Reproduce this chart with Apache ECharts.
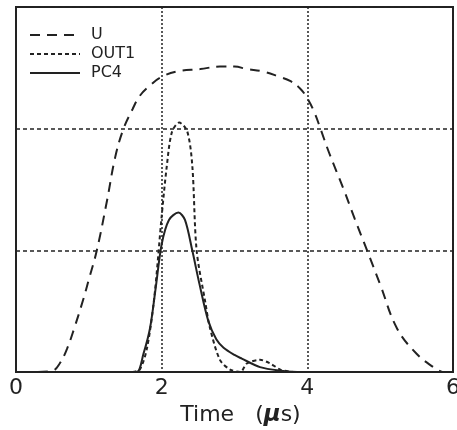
<!DOCTYPE html>
<html>
<head>
<meta charset="utf-8">
<script src="https://cdn.jsdelivr.net/npm/echarts@6/dist/echarts.min.js"></script>
<style>
  html, body { margin: 0; padding: 0; background: #fff; }
  #chart { width: 457px; height: 430px; }
</style>
</head>
<body>
<div id="chart"></div>
<script>
// [time in us, signal]
var uData = [[0.3,0],[0.5,0.01],[0.6,0.07],[0.7,0.19],[0.8,0.36],[0.92,0.59],[1.0,0.76],[1.11,1.0],
  [1.25,1.41],[1.36,1.76],[1.47,1.99],[1.6,2.16],[1.7,2.27],[1.85,2.36],[1.98,2.42],[2.21,2.47],
  [2.53,2.49],[2.8,2.51],[3.0,2.51],[3.17,2.49],[3.39,2.47],[3.6,2.43],[3.77,2.39],[3.9,2.33],
  [4.0,2.25],[4.1,2.13],[4.18,2.0],[4.3,1.8],[4.5,1.5],[4.65,1.26],[4.82,1.0],[5.0,0.72],
  [5.23,0.36],[5.5,0.15],[5.73,0.04],[5.85,0]];
var out1Data = [[1.6,0],[1.7,0.02],[1.8,0.2],[1.9,0.62],[2.0,1.28],[2.07,1.69],[2.14,1.97],
  [2.24,2.05],[2.35,1.98],[2.42,1.7],[2.48,1.0],[2.6,0.57],[2.66,0.37],[2.8,0.1],[2.94,0.02],
  [3.08,0],[3.17,0.07],[3.35,0.1],[3.49,0.07],[3.63,0.02],[3.8,0]];
var pc4Data = [[1.5,0],[1.66,0],[1.75,0.15],[1.84,0.36],[1.92,0.7],[2.0,1.05],[2.1,1.25],
  [2.23,1.31],[2.32,1.25],[2.42,1.0],[2.52,0.72],[2.64,0.42],[2.75,0.27],[2.85,0.2],
  [3.0,0.14],[3.1,0.11],[3.35,0.04],[3.63,0.01],[3.86,0]];
var xTicks = [0, 2, 4, 6];
var seriesNames = ['U', 'OUT1', 'PC4'];

var chart = echarts.init(document.getElementById('chart'));
var ink = '#222';

var option = {
  animation: false,
  textStyle: { fontFamily: 'DejaVu Sans' },
  grid: { left: 16, right: 4, top: 7, bottom: 58, outerBoundsMode: 'none',
    show: true, borderColor: ink, borderWidth: 2 },
  legend: {
    orient: 'vertical',
    left: 24, top: 22,
    itemWidth: 50, itemHeight: 10, itemGap: 3,
    data: seriesNames,
    itemStyle: { opacity: 0 },
    textStyle: { fontSize: 16, color: ink, padding: [0, 0, 0, 6] }
  },
  xAxis: {
    type: 'value', min: 0, max: 6, interval: 2,
    axisLine: { lineStyle: { color: ink, width: 2 } },
    axisTick: { show: false },
    axisLabel: {
      fontSize: 22, color: ink, margin: 5,
      formatter: function (v) { return xTicks.indexOf(v) >= 0 ? String(v) : ''; }
    },
    splitLine: { lineStyle: { color: ink, width: 1.5, type: [2, 2] } },
    name: 'Time   ({mu|μ}s)',
    nameLocation: 'middle', nameGap: 31,
    nameTextStyle: {
      fontSize: 22, color: ink, padding: [0, 0, 0, 12],
      rich: { mu: { fontSize: 23, fontWeight: 'bold', fontStyle: 'italic', color: ink } }
    }
  },
  yAxis: {
    type: 'value', min: 0, max: 3, interval: 1,
    axisLine: { show: true, lineStyle: { color: ink, width: 2 } },
    axisTick: { show: false },
    axisLabel: { show: false },
    splitLine: { lineStyle: { color: ink, width: 1.5, type: [4, 3] } }
  },
  series: [
    { name: 'U', type: 'line', data: uData, smooth: 0.4, symbol: 'none',
      lineStyle: { color: ink, width: 2, type: [10, 7] }, itemStyle: { color: ink } },
    { name: 'OUT1', type: 'line', data: out1Data, smooth: 0.3, symbol: 'none',
      lineStyle: { color: ink, width: 2, type: [4, 3] }, itemStyle: { color: ink } },
    { name: 'PC4', type: 'line', data: pc4Data, smooth: 0.3, symbol: 'none',
      lineStyle: { color: ink, width: 2 }, itemStyle: { color: ink } }
  ]
};

chart.setOption(option);
</script>
</body>
</html>
